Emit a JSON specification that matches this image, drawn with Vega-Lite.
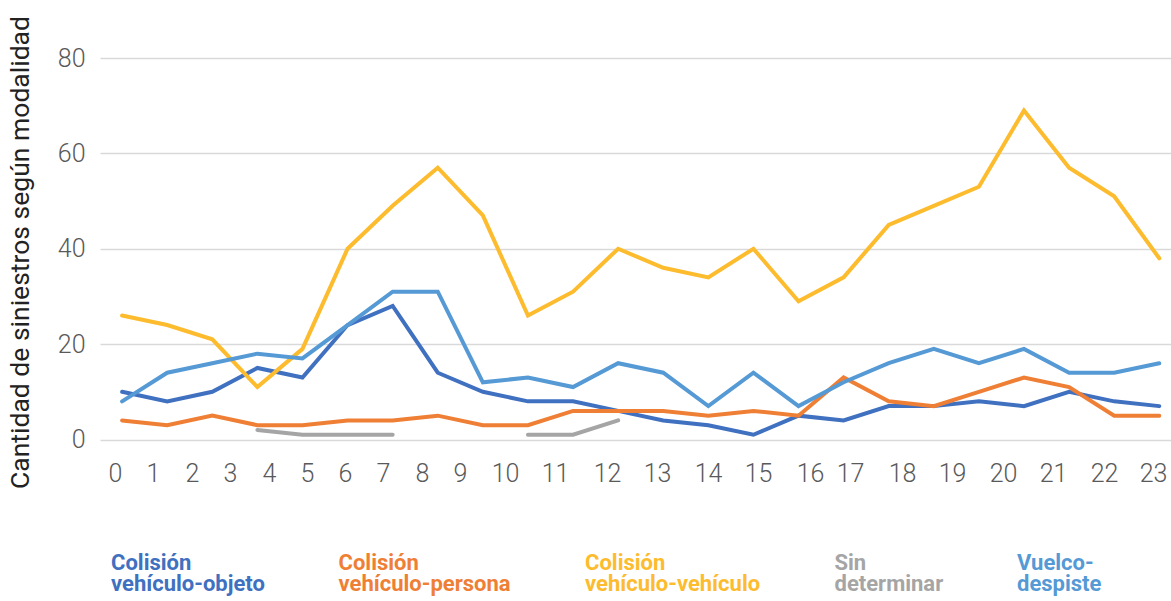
{
  "$schema": "https://vega.github.io/schema/vega-lite/v6.json",
  "autosize": {"type": "none"},
  "padding": {"left": 100, "top": 58, "right": 0, "bottom": 161.5},
  "width": 1071,
  "height": 381.5,
  "background": "white",
  "config": {
    "view": {"stroke": null},
    "font": "Roboto"
  },
  "data": {
    "values": [
      {"hora": 0, "modalidad": "Colisión vehículo-objeto", "n": 10},
      {"hora": 1, "modalidad": "Colisión vehículo-objeto", "n": 8},
      {"hora": 2, "modalidad": "Colisión vehículo-objeto", "n": 10},
      {"hora": 3, "modalidad": "Colisión vehículo-objeto", "n": 15},
      {"hora": 4, "modalidad": "Colisión vehículo-objeto", "n": 13},
      {"hora": 5, "modalidad": "Colisión vehículo-objeto", "n": 24},
      {"hora": 6, "modalidad": "Colisión vehículo-objeto", "n": 28},
      {"hora": 7, "modalidad": "Colisión vehículo-objeto", "n": 14},
      {"hora": 8, "modalidad": "Colisión vehículo-objeto", "n": 10},
      {"hora": 9, "modalidad": "Colisión vehículo-objeto", "n": 8},
      {"hora": 10, "modalidad": "Colisión vehículo-objeto", "n": 8},
      {"hora": 11, "modalidad": "Colisión vehículo-objeto", "n": 6},
      {"hora": 12, "modalidad": "Colisión vehículo-objeto", "n": 4},
      {"hora": 13, "modalidad": "Colisión vehículo-objeto", "n": 3},
      {"hora": 14, "modalidad": "Colisión vehículo-objeto", "n": 1},
      {"hora": 15, "modalidad": "Colisión vehículo-objeto", "n": 5},
      {"hora": 16, "modalidad": "Colisión vehículo-objeto", "n": 4},
      {"hora": 17, "modalidad": "Colisión vehículo-objeto", "n": 7},
      {"hora": 18, "modalidad": "Colisión vehículo-objeto", "n": 7},
      {"hora": 19, "modalidad": "Colisión vehículo-objeto", "n": 8},
      {"hora": 20, "modalidad": "Colisión vehículo-objeto", "n": 7},
      {"hora": 21, "modalidad": "Colisión vehículo-objeto", "n": 10},
      {"hora": 22, "modalidad": "Colisión vehículo-objeto", "n": 8},
      {"hora": 23, "modalidad": "Colisión vehículo-objeto", "n": 7},

      {"hora": 0, "modalidad": "Colisión vehículo-persona", "n": 4},
      {"hora": 1, "modalidad": "Colisión vehículo-persona", "n": 3},
      {"hora": 2, "modalidad": "Colisión vehículo-persona", "n": 5},
      {"hora": 3, "modalidad": "Colisión vehículo-persona", "n": 3},
      {"hora": 4, "modalidad": "Colisión vehículo-persona", "n": 3},
      {"hora": 5, "modalidad": "Colisión vehículo-persona", "n": 4},
      {"hora": 6, "modalidad": "Colisión vehículo-persona", "n": 4},
      {"hora": 7, "modalidad": "Colisión vehículo-persona", "n": 5},
      {"hora": 8, "modalidad": "Colisión vehículo-persona", "n": 3},
      {"hora": 9, "modalidad": "Colisión vehículo-persona", "n": 3},
      {"hora": 10, "modalidad": "Colisión vehículo-persona", "n": 6},
      {"hora": 11, "modalidad": "Colisión vehículo-persona", "n": 6},
      {"hora": 12, "modalidad": "Colisión vehículo-persona", "n": 6},
      {"hora": 13, "modalidad": "Colisión vehículo-persona", "n": 5},
      {"hora": 14, "modalidad": "Colisión vehículo-persona", "n": 6},
      {"hora": 15, "modalidad": "Colisión vehículo-persona", "n": 5},
      {"hora": 16, "modalidad": "Colisión vehículo-persona", "n": 13},
      {"hora": 17, "modalidad": "Colisión vehículo-persona", "n": 8},
      {"hora": 18, "modalidad": "Colisión vehículo-persona", "n": 7},
      {"hora": 19, "modalidad": "Colisión vehículo-persona", "n": 10},
      {"hora": 20, "modalidad": "Colisión vehículo-persona", "n": 13},
      {"hora": 21, "modalidad": "Colisión vehículo-persona", "n": 11},
      {"hora": 22, "modalidad": "Colisión vehículo-persona", "n": 5},
      {"hora": 23, "modalidad": "Colisión vehículo-persona", "n": 5},

      {"hora": 0, "modalidad": "Colisión vehículo-vehículo", "n": 26},
      {"hora": 1, "modalidad": "Colisión vehículo-vehículo", "n": 24},
      {"hora": 2, "modalidad": "Colisión vehículo-vehículo", "n": 21},
      {"hora": 3, "modalidad": "Colisión vehículo-vehículo", "n": 11},
      {"hora": 4, "modalidad": "Colisión vehículo-vehículo", "n": 19},
      {"hora": 5, "modalidad": "Colisión vehículo-vehículo", "n": 40},
      {"hora": 6, "modalidad": "Colisión vehículo-vehículo", "n": 49},
      {"hora": 7, "modalidad": "Colisión vehículo-vehículo", "n": 57},
      {"hora": 8, "modalidad": "Colisión vehículo-vehículo", "n": 47},
      {"hora": 9, "modalidad": "Colisión vehículo-vehículo", "n": 26},
      {"hora": 10, "modalidad": "Colisión vehículo-vehículo", "n": 31},
      {"hora": 11, "modalidad": "Colisión vehículo-vehículo", "n": 40},
      {"hora": 12, "modalidad": "Colisión vehículo-vehículo", "n": 36},
      {"hora": 13, "modalidad": "Colisión vehículo-vehículo", "n": 34},
      {"hora": 14, "modalidad": "Colisión vehículo-vehículo", "n": 40},
      {"hora": 15, "modalidad": "Colisión vehículo-vehículo", "n": 29},
      {"hora": 16, "modalidad": "Colisión vehículo-vehículo", "n": 34},
      {"hora": 17, "modalidad": "Colisión vehículo-vehículo", "n": 45},
      {"hora": 18, "modalidad": "Colisión vehículo-vehículo", "n": 49},
      {"hora": 19, "modalidad": "Colisión vehículo-vehículo", "n": 53},
      {"hora": 20, "modalidad": "Colisión vehículo-vehículo", "n": 69},
      {"hora": 21, "modalidad": "Colisión vehículo-vehículo", "n": 57},
      {"hora": 22, "modalidad": "Colisión vehículo-vehículo", "n": 51},
      {"hora": 23, "modalidad": "Colisión vehículo-vehículo", "n": 38},

      {"hora": 0, "modalidad": "Sin determinar", "n": null},
      {"hora": 1, "modalidad": "Sin determinar", "n": null},
      {"hora": 2, "modalidad": "Sin determinar", "n": null},
      {"hora": 3, "modalidad": "Sin determinar", "n": 2},
      {"hora": 4, "modalidad": "Sin determinar", "n": 1},
      {"hora": 5, "modalidad": "Sin determinar", "n": 1},
      {"hora": 6, "modalidad": "Sin determinar", "n": 1},
      {"hora": 7, "modalidad": "Sin determinar", "n": null},
      {"hora": 8, "modalidad": "Sin determinar", "n": null},
      {"hora": 9, "modalidad": "Sin determinar", "n": 1},
      {"hora": 10, "modalidad": "Sin determinar", "n": 1},
      {"hora": 11, "modalidad": "Sin determinar", "n": 4},
      {"hora": 12, "modalidad": "Sin determinar", "n": null},
      {"hora": 13, "modalidad": "Sin determinar", "n": null},
      {"hora": 14, "modalidad": "Sin determinar", "n": null},
      {"hora": 15, "modalidad": "Sin determinar", "n": null},
      {"hora": 16, "modalidad": "Sin determinar", "n": null},
      {"hora": 17, "modalidad": "Sin determinar", "n": null},
      {"hora": 18, "modalidad": "Sin determinar", "n": null},
      {"hora": 19, "modalidad": "Sin determinar", "n": null},
      {"hora": 20, "modalidad": "Sin determinar", "n": null},
      {"hora": 21, "modalidad": "Sin determinar", "n": null},
      {"hora": 22, "modalidad": "Sin determinar", "n": null},
      {"hora": 23, "modalidad": "Sin determinar", "n": null},

      {"hora": 0, "modalidad": "Vuelco-despiste", "n": 8},
      {"hora": 1, "modalidad": "Vuelco-despiste", "n": 14},
      {"hora": 2, "modalidad": "Vuelco-despiste", "n": 16},
      {"hora": 3, "modalidad": "Vuelco-despiste", "n": 18},
      {"hora": 4, "modalidad": "Vuelco-despiste", "n": 17},
      {"hora": 5, "modalidad": "Vuelco-despiste", "n": 24},
      {"hora": 6, "modalidad": "Vuelco-despiste", "n": 31},
      {"hora": 7, "modalidad": "Vuelco-despiste", "n": 31},
      {"hora": 8, "modalidad": "Vuelco-despiste", "n": 12},
      {"hora": 9, "modalidad": "Vuelco-despiste", "n": 13},
      {"hora": 10, "modalidad": "Vuelco-despiste", "n": 11},
      {"hora": 11, "modalidad": "Vuelco-despiste", "n": 16},
      {"hora": 12, "modalidad": "Vuelco-despiste", "n": 14},
      {"hora": 13, "modalidad": "Vuelco-despiste", "n": 7},
      {"hora": 14, "modalidad": "Vuelco-despiste", "n": 14},
      {"hora": 15, "modalidad": "Vuelco-despiste", "n": 7},
      {"hora": 16, "modalidad": "Vuelco-despiste", "n": 12},
      {"hora": 17, "modalidad": "Vuelco-despiste", "n": 16},
      {"hora": 18, "modalidad": "Vuelco-despiste", "n": 19},
      {"hora": 19, "modalidad": "Vuelco-despiste", "n": 16},
      {"hora": 20, "modalidad": "Vuelco-despiste", "n": 19},
      {"hora": 21, "modalidad": "Vuelco-despiste", "n": 14},
      {"hora": 22, "modalidad": "Vuelco-despiste", "n": 14},
      {"hora": 23, "modalidad": "Vuelco-despiste", "n": 16}
    ]
  },
  "mark": {"type": "line", "strokeWidth": 4, "strokeCap": "round", "strokeJoin": "miter"},
  "encoding": {
    "x": {
      "field": "hora",
      "type": "quantitative",
      "scale": {"domain": [-0.49, 23.26], "nice": false, "zero": false},
      "axis": {
        "title": null,
        "grid": false,
        "domain": false,
        "ticks": false,
        "values": [-0.157, 0.685, 1.55, 2.393, 3.258, 4.1, 4.943, 5.786, 6.651, 7.494, 8.492, 9.6, 10.754, 11.863, 12.994, 14.103, 15.256, 16.143, 17.296, 18.405, 19.536, 20.645, 21.776, 22.863],
        "labelExpr": "'' + indexof([-0.157, 0.685, 1.55, 2.393, 3.258, 4.1, 4.943, 5.786, 6.651, 7.494, 8.492, 9.6, 10.754, 11.863, 12.994, 14.103, 15.256, 16.143, 17.296, 18.405, 19.536, 20.645, 21.776, 22.863], datum.value)",
        "labelFont": "Roboto",
        "labelFontWeight": 300,
        "labelFontSize": 25,
        "labelColor": "#595959",
        "labelBaseline": "alphabetic",
        "labelPadding": 42,
        "labelOverlap": false,
        "labelFlush": false
      }
    },
    "y": {
      "field": "n",
      "type": "quantitative",
      "scale": {"domain": [0, 80], "nice": false},
      "axis": {
        "title": "Cantidad de siniestros según modalidad",
        "titleFont": "Roboto",
        "titleFontWeight": 400,
        "titleFontSize": 26.5,
        "titleColor": "#222222",
        "titleAngle": -90,
        "titleBaseline": "alphabetic",
        "titleAlign": "center",
        "titleX": -72,
        "titleY": 194,
        "values": [0, 20, 40, 60, 80],
        "grid": true,
        "gridColor": "#d9d9d9",
        "gridWidth": 1.5,
        "domain": false,
        "ticks": false,
        "labelFont": "Roboto",
        "labelFontWeight": 300,
        "labelFontSize": 25,
        "labelColor": "#595959",
        "labelPadding": 15
      }
    },
    "color": {
      "field": "modalidad",
      "type": "nominal",
      "scale": {
        "domain": ["Colisión vehículo-objeto", "Colisión vehículo-persona", "Colisión vehículo-vehículo", "Sin determinar", "Vuelco-despiste"],
        "range": ["#4070C0", "#EE7F35", "#FDBB2E", "#A5A5A5", "#5599D5"]
      },
      "legend": {
        "title": null,
        "orient": "none",
        "legendX": -11,
        "legendY": 483.5,
        "direction": "horizontal",
        "columns": 5,
        "columnPadding": 51.5,
        "padding": 0,
        "symbolSize": 0,
        "symbolStrokeWidth": 0,
        "symbolOpacity": 0,
        "labelOffset": 0,
        "labelFont": "Roboto",
        "labelFontWeight": 700,
        "labelFontSize": 22,
        "labelBaseline": "top",
        "labelLimit": 400,
        "labelExpr": "datum.label == 'Vuelco-despiste' ? ['Vuelco-', 'despiste'] : [slice(datum.label, 0, indexof(datum.label, ' ')), slice(datum.label, indexof(datum.label, ' ') + 1)]",
        "encode": {
          "labels": {
            "update": {
              "fill": {"scale": "color", "field": "value"},
              "lineHeight": {"value": 21.6}
            }
          }
        }
      }
    }
  }
}
